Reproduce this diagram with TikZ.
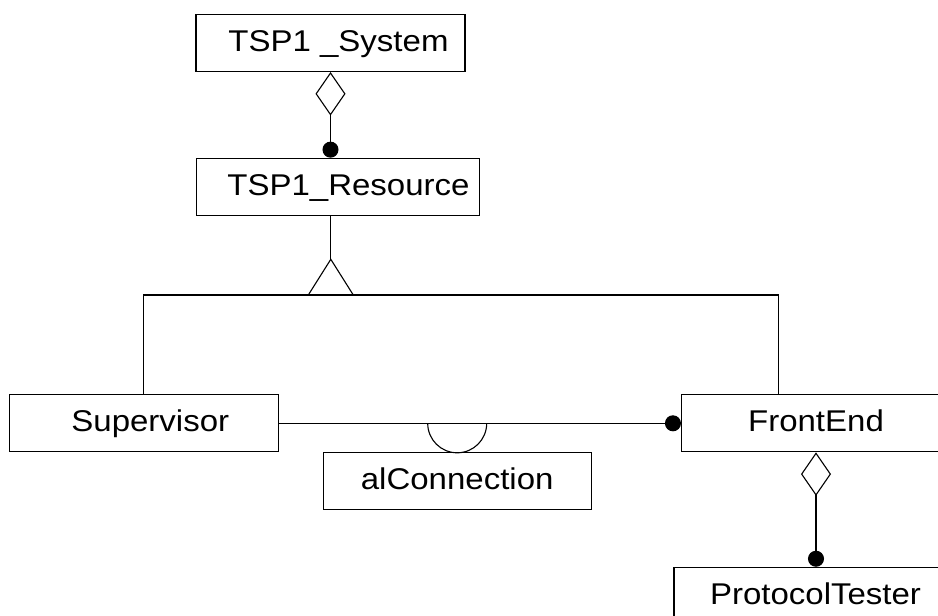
\documentclass[tikz,border=0pt]{standalone}
\usepackage{fontspec}
\setmainfont{Liberation Sans}[FakeStretch=1.1]
\usetikzlibrary{arrows.meta}

\tikzset{
  Aggr/.tip={Diamond[open,length=43.5pt,width=30pt]},
  Member/.tip={Circle[length=16pt]},
  classbox/.style={draw, line width=1.1pt, inner sep=0pt,
    minimum height=57pt, text height=17pt, text depth=0pt,
    font=\fontsize{30pt}{36pt}\selectfont},
  link/.style={line width=1.1pt},
}

\begin{document}
\begin{tikzpicture}[x=1pt,y=-1pt]
  \fill[white] (0,0) rectangle (938,616);
  \clip (0,0) rectangle (938,616);

  % classes
  \node[classbox, minimum width=269pt] (sys) at (330.5,43) {\hspace*{16pt}TSP1 \_System};
  \node[classbox, minimum width=283pt] (res) at (337.7,186.7) {\hspace*{21.6pt}TSP1\_Resource};
  \node[classbox, minimum width=269pt] (sup) at (143.8,423.3) {\hspace*{13pt}Supervisor};
  \node[classbox, minimum width=269pt] (fe) at (816,423.3) {FrontEnd};
  \node[classbox, minimum width=268pt] (alc) at (457.2,481.2) {alConnection};
  \node[classbox, minimum width=283pt] (pt) at (815.5,595.8) {ProtocolTester};

  % aggregation: system contains resources
  \draw[link, {Member}-{Aggr}] (res.north -| sys.south) -- (sys.south);

  % generalization of the resource
  \coordinate (gen) at (330.8,295);
  \coordinate (genTop) at (330.8,259.3);
  \draw[link] (res.south -| gen) -- (genTop);
  \draw[link, line join=miter] ([xshift=-22.5pt]gen) -- (genTop) -- ([xshift=22.5pt]gen) -- cycle;
  \draw[link] (sup.north) |- (gen) -| ([xshift=-37.3pt]fe.north);

  % association with its connection class
  \draw[link, -{Member}] (sup.east) -- (fe.west);
  \coordinate (socket) at (alc.north |- sup.east);
  \draw[link] ([xshift=-29.5pt]socket) arc[start angle=180, end angle=0, radius=29.5];

  % aggregation: front end contains testers
  \draw[link, {Member}-{Aggr}] (pt.north -| fe.south) -- (fe.south);
\end{tikzpicture}
\end{document}
